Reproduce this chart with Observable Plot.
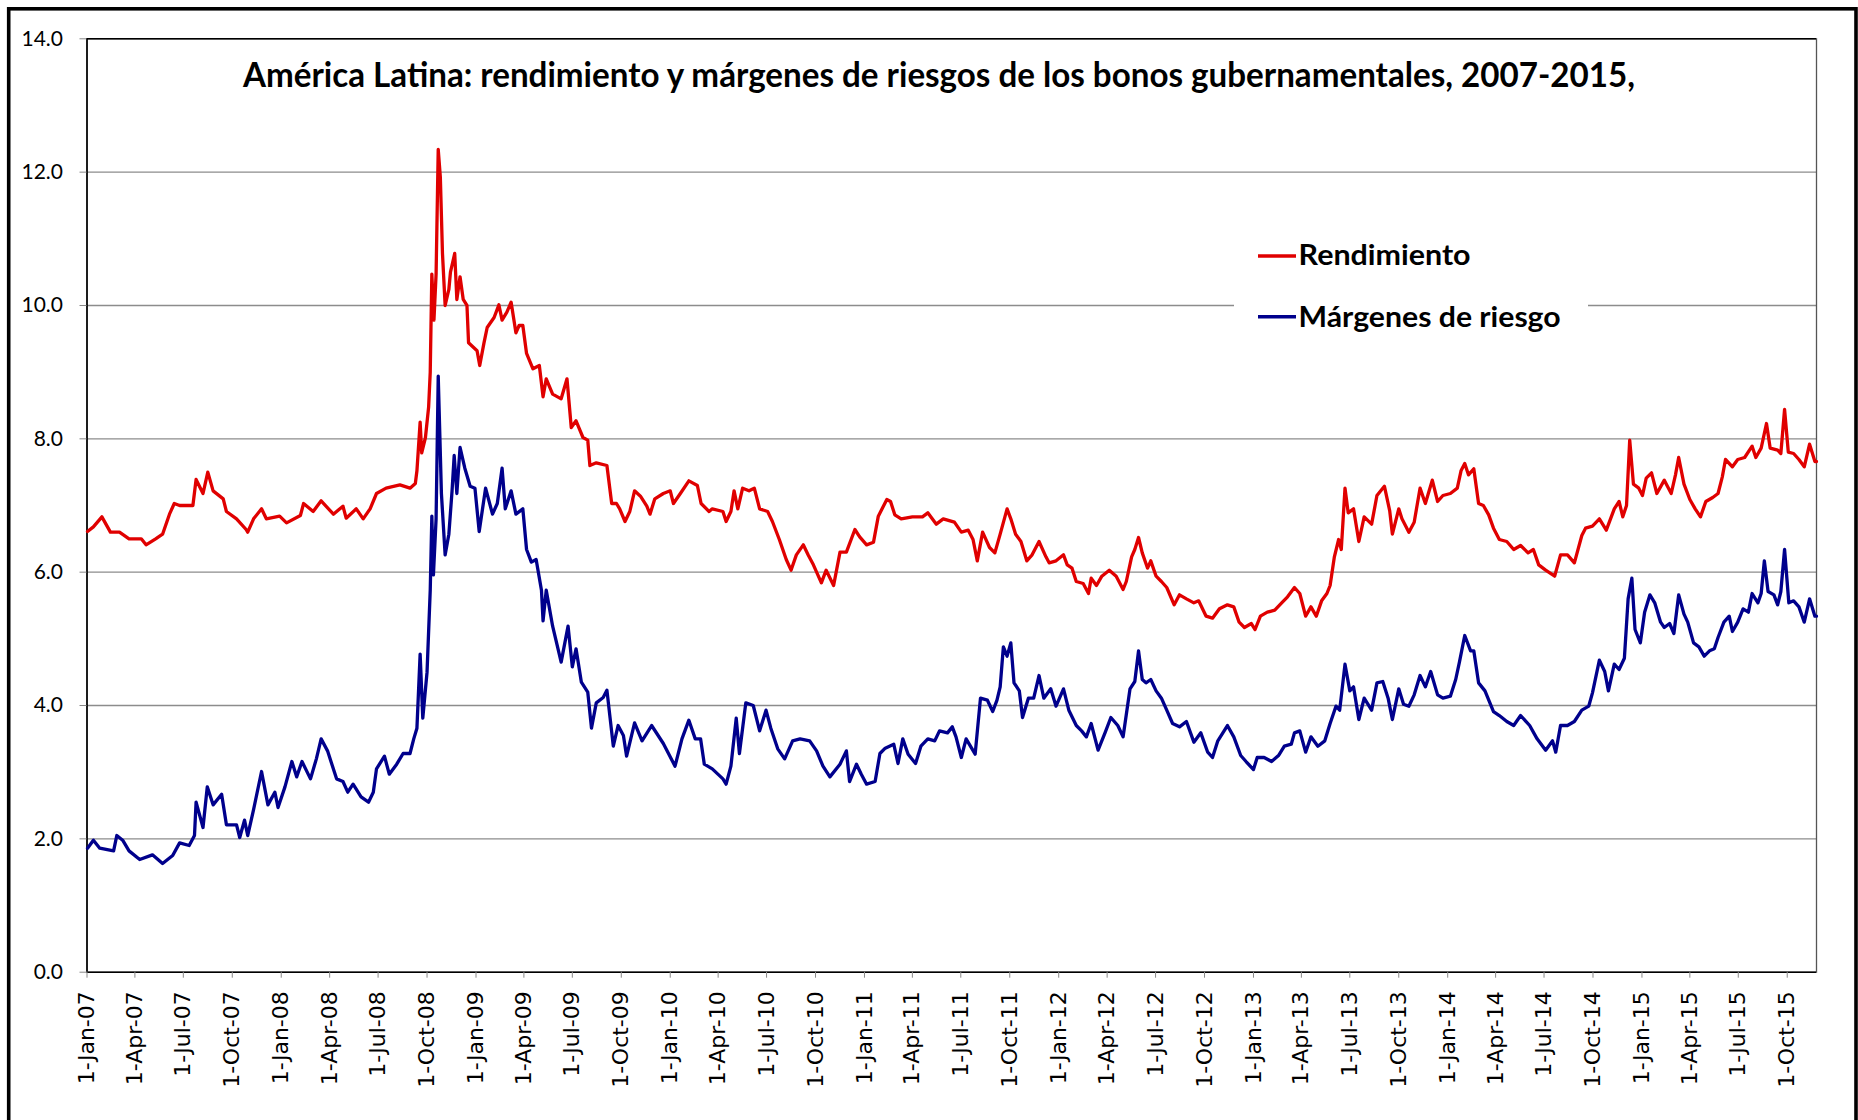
<!DOCTYPE html>
<html><head><meta charset="utf-8">
<script src="https://cdn.jsdelivr.net/npm/d3@7"></script>
<script src="https://cdn.jsdelivr.net/npm/@observablehq/plot@0.6"></script>
<style>
html,body{margin:0;padding:0;background:#fff;}
#chart{width:1858px;height:1120px;overflow:hidden;}
</style></head><body><div id="chart"></div>
<script>
const titulo = "América Latina: rendimiento y márgenes de riesgos de los bonos gubernamentales, 2007-2015,";
const series = ["Rendimiento", "Márgenes de riesgo"];
const colores = ["#e00000", "#00008c"];
const yTicks = [0, 2, 4, 6, 8, 10, 12, 14];
const xInicio = "2007-01-01";
const xFin = "2015-11-25";
const xUltimoTick = "2015-10-01";

const rendimiento = [
["2007-01-02",6.61],["2007-01-13",6.68],["2007-01-29",6.83],["2007-02-14",6.60],["2007-03-03",6.60],["2007-03-21",6.50],
["2007-04-13",6.50],["2007-04-22",6.41],["2007-05-10",6.50],["2007-05-23",6.57],["2007-06-05",6.87],["2007-06-14",7.03],
["2007-06-24",7.00],["2007-07-19",7.00],["2007-07-25",7.39],["2007-08-07",7.18],["2007-08-16",7.50],["2007-08-26",7.22],
["2007-09-14",7.10],["2007-09-20",6.91],["2007-10-09",6.80],["2007-10-27",6.64],["2007-10-30",6.60],["2007-11-10",6.80],
["2007-11-25",6.95],["2007-12-04",6.80],["2007-12-29",6.84],["2008-01-11",6.74],["2008-02-06",6.85],["2008-02-12",7.03],
["2008-03-01",6.91],["2008-03-16",7.07],["2008-04-08",6.87],["2008-04-26",6.99],["2008-05-02",6.81],["2008-05-21",6.95],
["2008-06-03",6.80],["2008-06-16",6.95],["2008-06-28",7.18],["2008-07-16",7.26],["2008-08-11",7.31],["2008-08-30",7.26],
["2008-09-09",7.33],["2008-09-12",7.52],["2008-09-18",8.25],["2008-09-21",7.79],["2008-09-28",8.02],["2008-10-04",8.48],
["2008-10-07",9.00],["2008-10-10",10.47],["2008-10-14",9.78],["2008-10-18",10.47],["2008-10-22",12.34],["2008-10-26",11.92],
["2008-10-30",10.78],["2008-11-04",10.00],["2008-11-11",10.24],["2008-11-14",10.50],["2008-11-22",10.78],["2008-11-26",10.09],
["2008-12-02",10.43],["2008-12-08",10.09],["2008-12-15",10.00],["2008-12-18",9.44],["2009-01-03",9.32],["2009-01-08",9.10],
["2009-01-16",9.44],["2009-01-22",9.67],["2009-02-04",9.82],["2009-02-13",10.01],["2009-02-19",9.78],["2009-02-28",9.90],
["2009-03-08",10.05],["2009-03-17",9.59],["2009-03-23",9.70],["2009-03-30",9.70],["2009-04-06",9.28],["2009-04-18",9.05],
["2009-04-30",9.10],["2009-05-07",8.63],["2009-05-13",8.90],["2009-05-25",8.67],["2009-06-10",8.60],["2009-06-21",8.90],
["2009-06-29",8.17],["2009-07-08",8.27],["2009-07-21",8.02],["2009-07-30",7.98],["2009-08-03",7.60],["2009-08-15",7.64],
["2009-09-04",7.60],["2009-09-13",7.03],["2009-09-22",7.03],["2009-09-28",6.95],["2009-10-08",6.76],["2009-10-17",6.91],
["2009-10-26",7.22],["2009-11-06",7.14],["2009-11-18",6.99],["2009-11-24",6.87],["2009-12-03",7.10],["2009-12-19",7.18],
["2010-01-01",7.22],["2010-01-07",7.03],["2010-01-20",7.18],["2010-02-05",7.37],["2010-02-21",7.30],["2010-02-28",7.03],
["2010-03-15",6.91],["2010-03-21",6.95],["2010-04-10",6.91],["2010-04-16",6.76],["2010-04-25",6.91],["2010-05-01",7.22],
["2010-05-08",6.95],["2010-05-17",7.26],["2010-05-29",7.22],["2010-06-08",7.26],["2010-06-18",6.95],["2010-07-03",6.91],
["2010-07-12",6.76],["2010-07-25",6.49],["2010-08-07",6.19],["2010-08-16",6.03],["2010-08-26",6.26],["2010-09-08",6.41],
["2010-09-17",6.26],["2010-09-27",6.11],["2010-10-12",5.84],["2010-10-21",6.03],["2010-11-04",5.80],["2010-11-16",6.30],
["2010-11-28",6.30],["2010-12-14",6.64],["2010-12-23",6.53],["2011-01-05",6.41],["2011-01-18",6.45],["2011-01-27",6.84],
["2011-02-12",7.09],["2011-02-19",7.06],["2011-02-27",6.86],["2011-03-11",6.80],["2011-04-01",6.83],["2011-04-20",6.83],
["2011-04-30",6.89],["2011-05-16",6.72],["2011-05-29",6.80],["2011-06-19",6.75],["2011-07-02",6.60],["2011-07-15",6.63],
["2011-07-24",6.49],["2011-08-01",6.17],["2011-08-11",6.60],["2011-08-24",6.37],["2011-09-03",6.29],["2011-09-13",6.57],
["2011-09-26",6.95],["2011-10-03",6.80],["2011-10-12",6.57],["2011-10-22",6.46],["2011-11-02",6.17],["2011-11-12",6.26],
["2011-11-25",6.46],["2011-12-08",6.23],["2011-12-14",6.14],["2011-12-27",6.17],["2012-01-10",6.26],["2012-01-17",6.11],
["2012-01-26",6.06],["2012-02-03",5.86],["2012-02-16",5.83],["2012-02-26",5.68],["2012-03-02",5.91],["2012-03-12",5.80],
["2012-03-22",5.94],["2012-04-05",6.03],["2012-04-18",5.94],["2012-05-01",5.74],["2012-05-07",5.86],["2012-05-17",6.23],
["2012-05-23",6.34],["2012-05-30",6.52],["2012-06-06",6.29],["2012-06-16",6.06],["2012-06-22",6.17],["2012-07-02",5.94],
["2012-07-12",5.86],["2012-07-22",5.77],["2012-08-05",5.51],["2012-08-15",5.66],["2012-08-28",5.60],["2012-09-11",5.54],
["2012-09-20",5.57],["2012-10-04",5.34],["2012-10-16",5.31],["2012-10-29",5.45],["2012-11-13",5.51],["2012-11-25",5.48],
["2012-12-05",5.25],["2012-12-15",5.17],["2012-12-28",5.23],["2013-01-04",5.14],["2013-01-14",5.34],["2013-01-27",5.40],
["2013-02-10",5.43],["2013-02-23",5.54],["2013-03-06",5.63],["2013-03-19",5.77],["2013-03-29",5.68],["2013-04-09",5.34],
["2013-04-19",5.48],["2013-04-29",5.34],["2013-05-09",5.57],["2013-05-19",5.68],["2013-05-25",5.80],["2013-06-02",6.23],
["2013-06-10",6.49],["2013-06-15",6.34],["2013-06-22",7.26],["2013-06-28",6.89],["2013-07-08",6.95],["2013-07-18",6.46],
["2013-07-28",6.83],["2013-08-11",6.72],["2013-08-21",7.15],["2013-09-04",7.29],["2013-09-14",6.92],["2013-09-19",6.57],
["2013-10-01",6.95],["2013-10-07",6.80],["2013-10-20",6.60],["2013-10-30",6.75],["2013-11-10",7.26],["2013-11-20",7.03],
["2013-12-03",7.38],["2013-12-13",7.06],["2013-12-23",7.15],["2014-01-06",7.18],["2014-01-19",7.26],["2014-01-26",7.52],
["2014-02-02",7.63],["2014-02-09",7.46],["2014-02-19",7.55],["2014-02-28",7.03],["2014-03-09",7.00],["2014-03-19",6.86],
["2014-03-28",6.66],["2014-04-08",6.49],["2014-04-22",6.46],["2014-05-05",6.34],["2014-05-18",6.40],["2014-06-01",6.29],
["2014-06-11",6.34],["2014-06-21",6.11],["2014-07-04",6.03],["2014-07-21",5.94],["2014-08-01",6.26],["2014-08-14",6.26],
["2014-08-27",6.14],["2014-09-10",6.55],["2014-09-17",6.66],["2014-09-30",6.69],["2014-10-13",6.80],["2014-10-26",6.63],
["2014-11-10",6.95],["2014-11-19",7.06],["2014-11-26",6.83],["2014-12-03",7.00],["2014-12-09",7.98],["2014-12-16",7.32],
["2014-12-26",7.26],["2015-01-02",7.15],["2015-01-09",7.41],["2015-01-19",7.49],["2015-01-29",7.18],["2015-02-12",7.38],
["2015-02-25",7.18],["2015-03-05",7.46],["2015-03-11",7.72],["2015-03-21",7.32],["2015-04-01",7.09],["2015-04-11",6.95],
["2015-04-21",6.83],["2015-05-01",7.06],["2015-05-14",7.12],["2015-05-24",7.18],["2015-06-01",7.43],["2015-06-07",7.69],
["2015-06-20",7.58],["2015-06-30",7.69],["2015-07-13",7.72],["2015-07-27",7.89],["2015-08-03",7.72],["2015-08-13",7.86],
["2015-08-23",8.23],["2015-08-30",7.86],["2015-09-13",7.83],["2015-09-19",7.78],["2015-09-26",8.44],["2015-10-03",7.80],
["2015-10-13",7.78],["2015-10-23",7.69],["2015-11-02",7.58],["2015-11-12",7.92],["2015-11-22",7.66],["2015-11-25",7.66]
];

const margenes = [
["2007-01-02",1.86],["2007-01-13",1.98],["2007-01-25",1.86],["2007-02-20",1.82],["2007-02-26",2.05],["2007-03-09",1.98],
["2007-03-21",1.82],["2007-04-10",1.69],["2007-05-04",1.76],["2007-05-23",1.63],["2007-06-11",1.75],["2007-06-24",1.94],
["2007-07-12",1.90],["2007-07-22",2.05],["2007-07-25",2.55],["2007-08-07",2.17],["2007-08-15",2.78],["2007-08-26",2.51],
["2007-09-11",2.67],["2007-09-20",2.21],["2007-10-09",2.21],["2007-10-15",2.02],["2007-10-24",2.28],["2007-10-30",2.05],
["2007-11-10",2.44],["2007-11-25",3.01],["2007-12-07",2.51],["2007-12-20",2.70],["2007-12-26",2.47],["2008-01-08",2.78],
["2008-01-21",3.16],["2008-01-30",2.93],["2008-02-09",3.16],["2008-02-25",2.90],["2008-03-07",3.20],["2008-03-16",3.50],
["2008-03-28",3.32],["2008-04-14",2.90],["2008-04-26",2.86],["2008-05-05",2.70],["2008-05-15",2.82],["2008-05-30",2.63],
["2008-06-13",2.55],["2008-06-22",2.70],["2008-06-28",3.05],["2008-07-13",3.24],["2008-07-22",2.97],["2008-08-05",3.12],
["2008-08-17",3.28],["2008-08-30",3.28],["2008-09-06",3.50],["2008-09-12",3.66],["2008-09-18",4.77],["2008-09-23",3.81],
["2008-10-01",4.50],["2008-10-07",5.73],["2008-10-10",6.84],["2008-10-13",5.96],["2008-10-18",6.80],["2008-10-22",8.94],
["2008-10-28",7.18],["2008-11-04",6.26],["2008-11-11",6.57],["2008-11-17",7.22],["2008-11-21",7.75],["2008-11-26",7.18],
["2008-12-02",7.87],["2008-12-11",7.56],["2008-12-21",7.29],["2008-12-30",7.26],["2009-01-07",6.61],["2009-01-19",7.26],
["2009-02-01",6.87],["2009-02-10",7.03],["2009-02-19",7.56],["2009-02-25",6.95],["2009-03-08",7.22],["2009-03-17",6.87],
["2009-03-30",6.95],["2009-04-06",6.34],["2009-04-15",6.15],["2009-04-24",6.19],["2009-05-04",5.73],["2009-05-07",5.27],
["2009-05-13",5.73],["2009-05-25",5.19],["2009-06-10",4.65],["2009-06-23",5.19],["2009-07-01",4.58],["2009-07-08",4.85],
["2009-07-18",4.35],["2009-07-30",4.20],["2009-08-06",3.66],["2009-08-15",4.04],["2009-08-28",4.12],["2009-09-04",4.23],
["2009-09-10",3.81],["2009-09-16",3.39],["2009-09-25",3.70],["2009-10-05",3.55],["2009-10-11",3.24],["2009-10-26",3.74],
["2009-11-09",3.47],["2009-11-27",3.70],["2009-12-19",3.43],["2010-01-10",3.09],["2010-01-23",3.50],["2010-02-05",3.78],
["2010-02-17",3.50],["2010-02-27",3.50],["2010-03-06",3.12],["2010-03-21",3.05],["2010-04-10",2.90],["2010-04-16",2.82],
["2010-04-25",3.09],["2010-05-05",3.81],["2010-05-11",3.28],["2010-05-23",4.04],["2010-06-06",4.00],["2010-06-18",3.62],
["2010-06-30",3.93],["2010-07-09",3.66],["2010-07-22",3.35],["2010-08-04",3.20],["2010-08-19",3.47],["2010-09-02",3.50],
["2010-09-20",3.47],["2010-10-03",3.32],["2010-10-15",3.09],["2010-10-28",2.93],["2010-11-16",3.12],["2010-11-28",3.32],
["2010-12-04",2.86],["2010-12-17",3.12],["2010-12-26",2.97],["2011-01-05",2.82],["2011-01-21",2.86],["2011-01-30",3.28],
["2011-02-09",3.36],["2011-02-25",3.42],["2011-03-05",3.13],["2011-03-14",3.50],["2011-03-24",3.27],["2011-04-07",3.13],
["2011-04-17",3.39],["2011-04-30",3.50],["2011-05-13",3.47],["2011-05-22",3.62],["2011-06-06",3.59],["2011-06-15",3.68],
["2011-06-22",3.53],["2011-07-02",3.22],["2011-07-11",3.50],["2011-07-28",3.27],["2011-08-07",4.11],["2011-08-20",4.08],
["2011-08-30",3.91],["2011-09-07",4.08],["2011-09-13",4.28],["2011-09-19",4.88],["2011-09-26",4.74],["2011-10-03",4.94],
["2011-10-09",4.34],["2011-10-19",4.22],["2011-10-25",3.82],["2011-11-05",4.11],["2011-11-15",4.11],["2011-11-25",4.45],
["2011-12-04",4.11],["2011-12-17",4.25],["2011-12-27",3.99],["2012-01-10",4.25],["2012-01-20",3.93],["2012-02-03",3.70],
["2012-02-13",3.62],["2012-02-22",3.53],["2012-03-02",3.73],["2012-03-15",3.33],["2012-03-28",3.59],["2012-04-08",3.82],
["2012-04-21",3.70],["2012-05-01",3.53],["2012-05-14",4.25],["2012-05-23",4.36],["2012-05-30",4.82],["2012-06-06",4.39],
["2012-06-13",4.34],["2012-06-22",4.39],["2012-07-02",4.22],["2012-07-12",4.11],["2012-07-22",3.93],["2012-08-02",3.73],
["2012-08-15",3.68],["2012-08-28",3.76],["2012-09-11",3.45],["2012-09-24",3.59],["2012-10-07",3.30],["2012-10-16",3.22],
["2012-10-26",3.47],["2012-11-13",3.70],["2012-11-25",3.53],["2012-12-08",3.25],["2012-12-18",3.16],["2013-01-01",3.04],
["2013-01-08",3.22],["2013-01-21",3.22],["2013-02-04",3.16],["2013-02-17",3.25],["2013-02-28",3.39],["2013-03-13",3.42],
["2013-03-19",3.59],["2013-03-29",3.62],["2013-04-09",3.30],["2013-04-19",3.53],["2013-05-02",3.39],["2013-05-15",3.47],
["2013-05-25",3.73],["2013-06-05",3.99],["2013-06-12",3.93],["2013-06-22",4.62],["2013-07-01",4.22],["2013-07-08",4.28],
["2013-07-18",3.79],["2013-07-28",4.11],["2013-08-11",3.93],["2013-08-21",4.34],["2013-09-01",4.36],["2013-09-11",4.11],
["2013-09-19",3.79],["2013-10-01",4.25],["2013-10-10",4.02],["2013-10-20",3.99],["2013-10-30",4.16],["2013-11-10",4.45],
["2013-11-20",4.28],["2013-11-30",4.51],["2013-12-13",4.16],["2013-12-23",4.11],["2014-01-06",4.14],["2014-01-16",4.39],
["2014-01-23",4.65],["2014-02-02",5.05],["2014-02-13",4.82],["2014-02-19",4.82],["2014-02-28",4.34],["2014-03-12",4.22],
["2014-03-28",3.91],["2014-04-08",3.85],["2014-04-22",3.76],["2014-05-05",3.70],["2014-05-18",3.85],["2014-06-04",3.70],
["2014-06-18",3.50],["2014-07-04",3.33],["2014-07-17",3.47],["2014-07-23",3.30],["2014-08-01",3.70],["2014-08-14",3.70],
["2014-08-27",3.76],["2014-09-10",3.93],["2014-09-23",3.99],["2014-09-30",4.19],["2014-10-13",4.68],["2014-10-23",4.51],
["2014-10-30",4.22],["2014-11-10",4.62],["2014-11-19",4.54],["2014-11-29",4.71],["2014-12-06",5.60],["2014-12-13",5.91],
["2014-12-19",5.14],["2014-12-29",4.94],["2015-01-06",5.40],["2015-01-16",5.66],["2015-01-25",5.54],["2015-02-05",5.25],
["2015-02-12",5.17],["2015-02-22",5.23],["2015-03-02",5.08],["2015-03-11",5.66],["2015-03-21",5.37],["2015-03-28",5.25],
["2015-04-08",4.94],["2015-04-18",4.88],["2015-04-28",4.74],["2015-05-08",4.82],["2015-05-17",4.85],["2015-05-24",5.02],
["2015-06-04",5.25],["2015-06-14",5.34],["2015-06-20",5.11],["2015-06-30",5.25],["2015-07-10",5.45],["2015-07-20",5.40],
["2015-07-27",5.68],["2015-08-07",5.54],["2015-08-13",5.68],["2015-08-19",6.17],["2015-08-26",5.71],["2015-09-06",5.66],
["2015-09-13",5.51],["2015-09-19",5.71],["2015-09-26",6.34],["2015-10-04",5.54],["2015-10-13",5.57],["2015-10-23",5.48],
["2015-11-02",5.25],["2015-11-12",5.60],["2015-11-22",5.34],["2015-11-25",5.34]
];

const parse = d3.utcParse("%Y-%m-%d");
const data = [
  ...rendimiento.map(([d, v]) => ({serie: series[0], date: parse(d), value: v})),
  ...margenes.map(([d, v]) => ({serie: series[1], date: parse(d), value: v}))
];
const xTicks = d3.utcMonth.every(3).range(parse(xInicio), d3.utcDay.offset(parse(xUltimoTick), 1));

const W = 1858, H = 1120;
const chart = Plot.plot({
  width: W, height: H,
  marginLeft: 86.5, marginRight: 42, marginTop: 38.3, marginBottom: 148.3,
  style: {background: "#fff", color: "#000", fontFamily: "Lato"},
  x: {type: "utc", domain: [parse(xInicio), parse(xFin)]},
  y: {domain: [0, 14]},
  color: {domain: series, range: colores},
  marks: [
    Plot.gridY(yTicks.filter(t => t > 0 && t < 14), {stroke: "#8c8c8c", strokeOpacity: 1, strokeWidth: 1.3}),
    Plot.frame({stroke: "#555", strokeWidth: 1.3}),
    Plot.ruleY([0], {stroke: "#000", strokeWidth: 1.6}),
    Plot.ruleX([parse(xInicio)], {stroke: "#000", strokeWidth: 1.6}),
    Plot.ruleY([14], {stroke: "#000", strokeWidth: 1.4}),
    Plot.axisY({ticks: yTicks, tickFormat: d3.format(".1f"), tickSize: 7, tickPadding: 17, label: null, fontSize: 21}),
    Plot.axisX({ticks: xTicks, tickFormat: d3.utcFormat("%-d-%b-%y"), tickRotate: -90, tickSize: 6, tickPadding: 13, label: null, fontSize: 22}),
    Plot.lineY(data, {x: "date", y: "value", z: "serie", stroke: "serie", strokeWidth: 3.3, strokeLinejoin: "round"})
  ]
});

document.getElementById("chart").appendChild(chart);
const svg = d3.select(chart);
svg.selectAll("g[aria-label='x-axis tick label']").attr("font-family", "DejaVu Sans").attr("font-size", 22);
svg.selectAll("g[aria-label='x-axis tick label'] text").attr("font-family", "DejaVu Sans").attr("font-size", 22);
svg.selectAll("g[aria-label='y-axis tick'], g[aria-label='x-axis tick']").attr("stroke", "#888");

// outer frame
svg.append("rect").attr("x", 8.7).attr("y", 8.8).attr("width", 1856 - 8.7).attr("height", 1200)
  .attr("fill", "none").attr("stroke", "#000").attr("stroke-width", 3.6);

// title
svg.append("text").attr("x", 243).attr("y", 86.7).attr("text-anchor", "start")
  .attr("font-family", "Lato").attr("font-weight", 700).attr("font-size", 35)
  .attr("textLength", 1392).attr("lengthAdjust", "spacingAndGlyphs").attr("fill", "#000")
  .text(titulo);

// legend
const lg = svg.append("g").attr("text-anchor", "start");
lg.append("rect").attr("x", 1234).attr("y", 222).attr("width", 354).attr("height", 120).attr("fill", "#fff");
const ly = [256, 316.7], ty = [265, 326.7], tl = [172, 262];
series.forEach((s, i) => {
  lg.append("line").attr("x1", 1258).attr("x2", 1296).attr("y1", ly[i]).attr("y2", ly[i])
    .attr("stroke", colores[i]).attr("stroke-width", 3.4);
  lg.append("text").attr("x", 1298.6).attr("y", ty[i]).attr("text-anchor", "start")
    .attr("font-family", "Lato").attr("font-weight", 700).attr("font-size", 28)
    .attr("textLength", tl[i]).attr("lengthAdjust", "spacingAndGlyphs").attr("fill", "#000")
    .text(s);
});
</script></body></html>
